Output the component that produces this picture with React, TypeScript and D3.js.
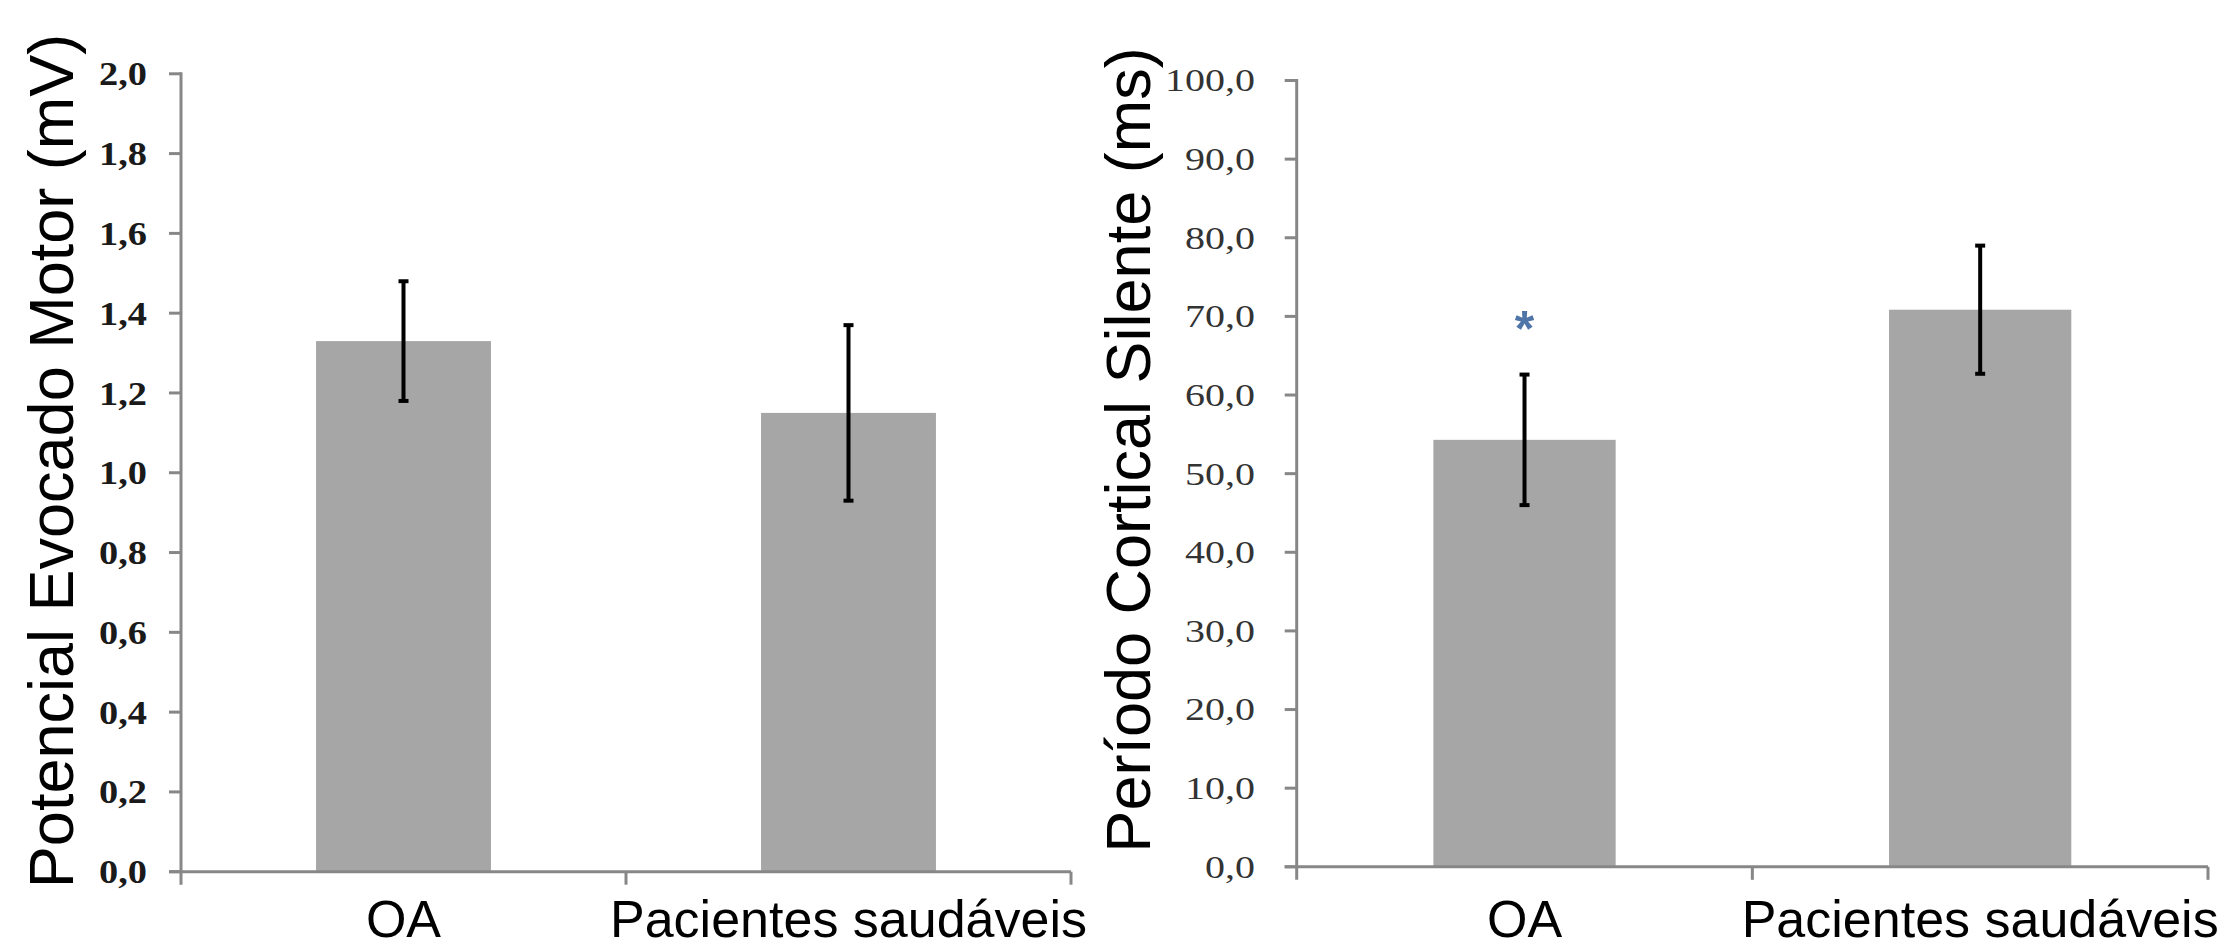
import React, { useEffect, useRef } from 'react'
import * as d3 from 'd3'

const width = 2222
const height = 949

const categories = ['OA', 'Pacientes saudáveis']

// Potencial Evocado Motor (mV)
const mepMeans = [1.33, 1.15]
const mepErrors = [0.15, 0.22]
const mepTicks = [0, 0.2, 0.4, 0.6, 0.8, 1.0, 1.2, 1.4, 1.6, 1.8, 2.0]

// Período Cortical Silente (ms)
const cspMeans = [54.3, 70.85]
const cspErrors = [8.3, 8.15]
const cspTicks = [0, 10, 20, 30, 40, 50, 60, 70, 80, 90, 100]
const cspMarks = ['*', '']

const ptBR = d3.formatLocale({ decimal: ',', thousands: '.', grouping: [3], currency: ['', ''] })
const fmt = ptBR.format('.1f')

const panels = [
    {
        title: 'Potencial Evocado Motor (mV)',
        means: mepMeans, errors: mepErrors, ticks: mepTicks, marks: ['', ''],
        x0: 181, x1: 1071, yTop: 73.8, yBottom: 871.7,
        padIn: 0.607, padOut: 0.3035,
        titleX: 73, titleY: 461,
        tickWeight: 'bold', tickSize: 34, tickStretch: 1.13, tickRight: 147, tickColor: '#1a1a1a',
        catY: 937
    },
    {
        title: 'Período Cortical Silente (ms)',
        means: cspMeans, errors: cspErrors, ticks: cspTicks, marks: cspMarks,
        x0: 1296.7, x1: 2208, yTop: 80.5, yBottom: 866.8,
        padIn: 0.6, padOut: 0.3,
        titleX: 1150, titleY: 450,
        tickWeight: 'normal', tickSize: 32, tickStretch: 1.25, tickRight: 1255, tickColor: '#333',
        catY: 937
    }
]

const axisColor = '#878787'

export default function App() {
    const node = useRef<SVGSVGElement>(null)

    useEffect(() => {
        const svg = d3.select(node.current)
        svg.selectAll('*').remove()

        panels.forEach(p => {
            const g = svg.append('g')

            const x = d3.scaleBand<string>()
                .domain(categories)
                .range([p.x0, p.x1])
                .paddingInner(p.padIn)
                .paddingOuter(p.padOut)

            const bounds = d3.scalePoint<number>()
                .domain(d3.range(categories.length + 1))
                .range([p.x0, p.x1])

            const y = d3.scaleLinear()
                .domain([0, p.ticks[p.ticks.length - 1]])
                .range([p.yBottom, p.yTop])

            // bars
            g.append('g')
                .selectAll('rect')
                .data(p.means)
                .join('rect')
                .attr('x', (d, i) => x(categories[i])!)
                .attr('y', d => y(d))
                .attr('width', x.bandwidth())
                .attr('height', d => y(0) - y(d))
                .attr('fill', '#a6a6a6')

            // y axis
            g.append('line')
                .attr('x1', p.x0).attr('x2', p.x0)
                .attr('y1', y(p.ticks[p.ticks.length - 1]) - 1.5).attr('y2', y(0) + 13)
                .attr('stroke', axisColor).attr('stroke-width', 3)
            g.append('g')
                .selectAll('line')
                .data(p.ticks)
                .join('line')
                .attr('x1', p.x0 - 12).attr('x2', p.x0)
                .attr('y1', d => y(d)).attr('y2', d => y(d))
                .attr('stroke', axisColor).attr('stroke-width', 3)
            g.append('g')
                .selectAll('text')
                .data(p.ticks)
                .join('text')
                .attr('transform', d => `translate(${p.tickRight},${y(d) + p.tickSize * 0.34}) scale(${p.tickStretch},1)`)
                .attr('text-anchor', 'end')
                .attr('font-family', '"Liberation Serif", "Times New Roman", serif')
                .attr('font-weight', p.tickWeight)
                .attr('font-size', p.tickSize)
                .attr('fill', p.tickColor)
                .text(d => fmt(d))

            // x axis
            g.append('line')
                .attr('x1', p.x0 - 12).attr('x2', p.x1)
                .attr('y1', y(0)).attr('y2', y(0))
                .attr('stroke', axisColor).attr('stroke-width', 3)
            g.append('g')
                .selectAll('line')
                .data(d3.range(1, categories.length + 1))
                .join('line')
                .attr('x1', d => bounds(d)!).attr('x2', d => bounds(d)!)
                .attr('y1', y(0)).attr('y2', y(0) + 13)
                .attr('stroke', axisColor).attr('stroke-width', 3)
            g.append('g')
                .selectAll('text')
                .data(categories)
                .join('text')
                .attr('x', d => x(d)! + x.bandwidth() / 2)
                .attr('y', p.catY)
                .attr('text-anchor', 'middle')
                .attr('font-family', '"Liberation Sans", Arial, sans-serif')
                .attr('font-size', 52)
                .attr('fill', '#000')
                .text(d => d)

            // error bars
            const cx = (i: number) => x(categories[i])! + x.bandwidth() / 2
            const eb = g.append('g').attr('stroke', '#000').attr('stroke-width', 4)
            eb.selectAll('line.stem')
                .data(p.means)
                .join('line')
                .attr('class', 'stem')
                .attr('x1', (d, i) => cx(i)).attr('x2', (d, i) => cx(i))
                .attr('y1', (d, i) => y(d + p.errors[i])).attr('y2', (d, i) => y(d - p.errors[i]))
            eb.selectAll('line.capHi')
                .data(p.means)
                .join('line')
                .attr('class', 'capHi')
                .attr('x1', (d, i) => cx(i) - 5).attr('x2', (d, i) => cx(i) + 5)
                .attr('y1', (d, i) => y(d + p.errors[i])).attr('y2', (d, i) => y(d + p.errors[i]))
            eb.selectAll('line.capLo')
                .data(p.means)
                .join('line')
                .attr('class', 'capLo')
                .attr('x1', (d, i) => cx(i) - 5).attr('x2', (d, i) => cx(i) + 5)
                .attr('y1', (d, i) => y(d - p.errors[i])).attr('y2', (d, i) => y(d - p.errors[i]))

            // significance marks
            g.append('g')
                .selectAll('text')
                .data(p.marks)
                .join('text')
                .attr('x', (d, i) => cx(i))
                .attr('y', (d, i) => y(p.means[i] + p.errors[i]) - 57 + 0.575 * 50)
                .attr('text-anchor', 'middle')
                .attr('font-family', '"Liberation Sans", Arial, sans-serif')
                .attr('font-weight', 'bold')
                .attr('font-size', 50)
                .attr('fill', '#4f74a8')
                .text(d => d)

            // axis title
            g.append('text')
                .attr('transform', `translate(${p.titleX},${p.titleY}) rotate(-90)`)
                .attr('text-anchor', 'middle')
                .attr('font-family', '"Liberation Sans", Arial, sans-serif')
                .attr('font-size', 63)
                .attr('fill', '#000')
                .text(p.title)
        })
    }, [])

    return (
        <svg
            ref={node}
            width={width}
            height={height}
            viewBox={`0 0 ${width} ${height}`}
            style={{ position: 'absolute', left: 0, top: 0, background: '#fff' }}
        />
    )
}
